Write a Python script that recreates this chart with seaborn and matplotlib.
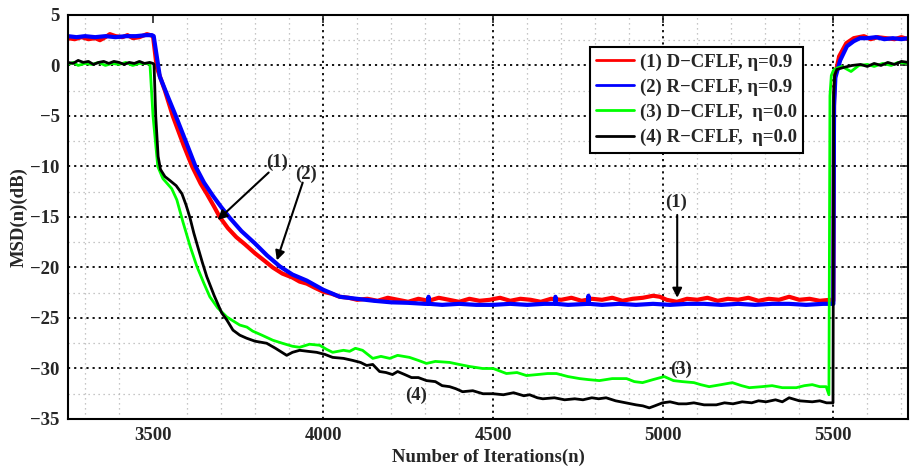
import numpy as np
import pandas as pd
import matplotlib
matplotlib.use("Agg")
import matplotlib.pyplot as plt
from matplotlib.ticker import MultipleLocator
import seaborn as sns

# ---------------- data ----------------
labels = ["(1) D\u2212CFLF, \u03b7=0.9", "(2) R\u2212CFLF, \u03b7=0.9",
          "(3) D\u2212CFLF,  \u03b7=0.0", "(4) R\u2212CFLF,  \u03b7=0.0"]
colors = ["#ff0000", "#0000ff", "#00ff00", "#000000"]

red_x = [3250, 3270, 3290, 3310, 3330, 3344, 3360, 3373, 3390, 3410, 3425, 3441, 3460, 3482, 3492, 3500,
         3511, 3535, 3558, 3590, 3615, 3640, 3658, 3680, 3696, 3720, 3745, 3770, 3800, 3830, 3852, 3880,
         3910, 3931, 3952, 3975, 4000, 4025, 4049, 4075, 4100, 4130, 4160, 4190, 4220, 4250, 4280, 4310,
         4340, 4370, 4400, 4430, 4460, 4490, 4520, 4550, 4580, 4610, 4640, 4670, 4700, 4730, 4760, 4790,
         4820, 4850, 4880, 4910, 4940, 4970, 4990, 5010, 5040, 5070, 5100, 5130, 5160, 5190, 5220, 5250,
         5280, 5310, 5340, 5370, 5400, 5430, 5460, 5490, 5500, 5502, 5505, 5517, 5538, 5560, 5575, 5590,
         5610, 5630, 5655, 5680, 5700, 5720]
red_y = [2.7, 2.6, 2.8, 2.6, 2.7, 2.5, 2.8, 3.1, 2.9, 2.8, 3.0, 2.7, 2.8, 3.1, 3.0, 2.9,
         -0.2, -2.5, -5.0, -7.9, -10.0, -11.7, -12.7, -14.0, -15.0, -16.1, -17.0, -17.7, -18.6, -19.4, -20.0, -20.6,
         -21.0, -21.4, -21.6, -22.0, -22.4, -22.6, -22.9, -23.0, -23.2, -23.1, -23.3, -23.0, -23.2, -23.4, -23.1, -23.3,
         -23.0, -23.2, -23.4, -23.1, -23.3, -23.2, -23.0, -23.3, -23.1, -23.2, -23.4, -23.1, -23.2, -23.0, -23.3, -23.1,
         -23.2, -23.0, -23.3, -23.1, -23.0, -22.8, -22.9, -23.2, -23.4, -23.1, -23.2, -23.0, -23.3, -23.1, -23.2, -23.0,
         -23.3, -23.1, -23.2, -22.9, -23.2, -23.1, -23.3, -23.2, -23.3, -3.5, -1.0, 0.9, 2.2, 2.7, 2.8, 2.9,
         2.6, 2.8, 2.7, 2.6, 2.8, 2.6]

blue_x = [3250, 3275, 3300, 3330, 3360, 3390, 3420, 3450, 3480, 3497, 3502, 3520, 3545, 3567, 3595, 3625,
          3650, 3676, 3700, 3726, 3760, 3799, 3835, 3873, 3910, 3952, 4000, 4049, 4099, 4150, 4200, 4250,
          4300, 4309, 4310, 4312, 4350, 4400, 4450, 4500, 4550, 4600, 4650, 4682, 4683, 4685, 4720, 4779,
          4780, 4782, 4820, 4870, 4920, 4970, 5020, 5070, 5120, 5170, 5220, 5270, 5320, 5370, 5420, 5470,
          5500, 5502, 5506, 5520, 5540, 5560, 5578, 5600, 5625, 5650, 5675, 5700, 5720]
blue_y = [2.9, 2.8, 2.9, 2.8, 2.9, 2.8, 2.9, 2.9, 3.0, 3.0, 2.9, -1.1, -3.2, -5.0, -7.4, -10.0,
          -11.6, -12.9, -14.0, -15.1, -16.4, -17.6, -18.8, -19.9, -20.7, -21.3, -22.2, -22.9, -23.1, -23.3, -23.45, -23.5,
          -23.6, -23.6, -22.9, -23.6, -23.7, -23.6, -23.7, -23.7, -23.6, -23.7, -23.6, -23.6, -22.9, -23.6, -23.7, -23.6,
          -22.8, -23.6, -23.7, -23.6, -23.7, -23.6, -23.7, -23.6, -23.6, -23.7, -23.6, -23.7, -23.6, -23.6, -23.7, -23.6,
          -23.6, -4.0, -1.2, 0.5, 1.9, 2.4, 2.7, 2.7, 2.8, 2.6, 2.7, 2.6, 2.7]

green_x = [3250, 3265, 3280, 3300, 3320, 3340, 3360, 3380, 3400, 3420, 3440, 3460, 3480, 3491, 3500, 3514,
           3529, 3555, 3570, 3588, 3610, 3629, 3650, 3667, 3690, 3717, 3755, 3776, 3793, 3820, 3852, 3880,
           3910, 3931, 3960, 3990, 4010, 4028, 4060, 4078, 4095, 4116, 4146, 4170, 4196, 4219, 4254, 4280,
           4304, 4330, 4372, 4400, 4430, 4469, 4500, 4539, 4570, 4598, 4630, 4660, 4686, 4720, 4754, 4780,
           4812, 4850, 4892, 4915, 4939, 4970, 5003, 5030, 5056, 5090, 5110, 5135, 5170, 5203, 5230, 5253,
           5290, 5320, 5350, 5391, 5415, 5438, 5460, 5479, 5487, 5490, 5494, 5500, 5508, 5525, 5552, 5575,
           5600, 5620, 5645, 5670, 5690, 5720]
green_y = [0.1, 0.3, 0.0, 0.2, 0.1, 0.3, 0.0, 0.2, 0.1, 0.3, 0.0, 0.2, 0.2, 0.1, -5.0, -10.0,
           -11.2, -12.2, -13.3, -15.5, -18.0, -19.9, -21.6, -22.9, -24.0, -24.9, -25.7, -25.9, -26.3, -26.7, -27.2, -27.5,
           -27.8, -27.9, -27.6, -27.7, -28.1, -28.4, -28.2, -28.3, -28.0, -28.2, -29.0, -28.8, -29.0, -28.7, -28.9, -29.2,
           -29.5, -29.3, -29.4, -29.6, -29.8, -30.0, -30.0, -30.5, -30.4, -30.7, -30.6, -30.5, -30.5, -30.8, -31.0, -31.1,
           -31.2, -31.0, -31.0, -31.3, -31.4, -31.1, -30.8, -31.2, -31.3, -31.4, -31.6, -31.8, -31.6, -31.4, -31.7, -31.9,
           -31.8, -31.7, -31.9, -31.9, -31.7, -31.6, -31.8, -31.8, -32.6, -3.0, -1.0, -0.5, -0.3, -0.1, -0.6, 0.0,
           0.1, -0.1, 0.2, 0.0, 0.3, 0.2]

black_x = [3250, 3265, 3280, 3295, 3310, 3325, 3340, 3355, 3370, 3385, 3400, 3415, 3430, 3445, 3460, 3475,
           3490, 3500, 3503, 3508, 3515, 3522, 3535, 3550, 3568, 3585, 3597, 3608, 3620, 3632, 3645, 3658,
           3680, 3702, 3717, 3735, 3755, 3775, 3800, 3834, 3860, 3893, 3910, 3931, 3955, 3981, 4005, 4028,
           4060, 4087, 4110, 4128, 4146, 4166, 4185, 4204, 4219, 4240, 4260, 4280, 4304, 4330, 4350, 4372,
           4390, 4410, 4440, 4470, 4500, 4530, 4560, 4590, 4607, 4630, 4646, 4680, 4710, 4740, 4764, 4790,
           4810, 4832, 4860, 4890, 4920, 4940, 4959, 4975, 4998, 5020, 5045, 5068, 5090, 5120, 5156, 5180,
           5205, 5232, 5260, 5280, 5302, 5330, 5350, 5370, 5400, 5438, 5460, 5480, 5499, 5501, 5504, 5510,
           5530, 5555, 5580, 5600, 5620, 5640, 5660, 5680, 5700, 5720]
black_y = [0.3, 0.2, 0.5, 0.3, 0.4, 0.1, 0.3, 0.4, 0.2, 0.4, 0.3, 0.1, 0.3, 0.2, 0.4, 0.2,
           0.3, 0.2, 0.1, -5.0, -9.0, -10.3, -11.0, -11.4, -11.9, -12.7, -13.8, -15.0, -16.6, -18.0, -19.5, -20.9,
           -22.8, -24.5, -25.2, -26.2, -26.7, -27.0, -27.3, -27.5, -28.0, -28.7, -28.4, -28.2, -28.3, -28.4, -28.6, -28.9,
           -29.0, -29.2, -29.4, -29.7, -29.6, -30.3, -30.4, -30.6, -30.3, -30.6, -30.9, -30.9, -31.2, -31.3, -31.7, -31.8,
           -32.0, -32.3, -32.2, -32.5, -32.5, -32.6, -32.4, -32.7, -32.6, -32.9, -33.0, -32.9, -33.1, -33.0, -33.1, -32.9,
           -33.0, -32.9, -33.2, -33.4, -33.6, -33.7, -33.9, -33.7, -33.4, -33.3, -33.5, -33.5, -33.4, -33.6, -33.6, -33.4,
           -33.5, -33.3, -33.4, -33.2, -33.3, -33.1, -33.3, -32.9, -33.2, -33.3, -33.2, -33.4, -33.4, -3.0, -1.0, -0.4,
           -0.2, 0.0, 0.1, -0.1, 0.2, 0.0, 0.3, 0.1, 0.4, 0.3]

xticks = [3500, 4000, 4500, 5000, 5500]
yticks = [-35, -30, -25, -20, -15, -10, -5, 0, 5]

# ---------------- figure ----------------
sns.set_style("white")
plt.rcParams['font.family'] = ['Liberation Serif', 'DejaVu Serif']
plt.rcParams['font.weight'] = 'bold'
plt.rcParams['axes.labelweight'] = 'bold'

fig = plt.figure(figsize=(9.10, 4.67), dpi=100)
ax = fig.add_axes([0.0747, 0.1028, 0.9233, 0.8652])

series = [(red_x, red_y), (blue_x, blue_y), (green_x, green_y), (black_x, black_y)]
widths = [3.0, 3.0, 2.0, 2.0]
for (xs, ys), lab, col, lw in zip(series, labels, colors, widths):
    df = pd.DataFrame({"n": xs, "msd": ys})
    sns.lineplot(data=df, x="n", y="msd", color=col, lw=lw, label=lab, ax=ax,
                 estimator=None, sort=False, legend=True)

ax.set_xlim(3250, 5720)
ax.set_ylim(-35, 5)
ax.set_xticks(xticks)
ax.set_yticks(yticks)
ax.xaxis.set_minor_locator(MultipleLocator(100))
ax.yaxis.set_minor_locator(MultipleLocator(2.5))
ax.tick_params(which='major', direction='in', length=6, width=1.2, top=True, right=True,
               labelsize=13.5, pad=6)
ax.tick_params(which='minor', length=0)
for lbl in ax.get_xticklabels() + ax.get_yticklabels():
    lbl.set_fontweight('bold')

# grids (MATLAB style)
ax.grid(which='minor', axis='both', linestyle=(0, (1, 3)), color='#b4b4b4', lw=0.9)
ax.grid(which='major', axis='y', linestyle=(0, (1.2, 2.2)), color='black', lw=1.3)
for xv in xticks[1:]:
    ax.axvline(xv, linestyle=(0, (1.2, 2.2)), color='black', lw=1.3, zorder=0.5)
ax.set_axisbelow(True)

for s in ax.spines.values():
    s.set_linewidth(1.5)
    s.set_color('black')

ax.set_xlabel("Number of Iterations(n)", fontsize=13.5, fontweight='bold', labelpad=3)
ax.set_ylabel("MSD(n)(dB)", fontsize=13.5, fontweight='bold', labelpad=2)

leg = ax.legend(loc='upper right', bbox_to_anchor=(0.875, 0.921), borderaxespad=0,
                fancybox=False, framealpha=1, edgecolor='black', handlelength=2.0,
                handletextpad=0.3, labelspacing=0.42, borderpad=0.35,
                prop={'family': 'Liberation Serif', 'weight': 'bold', 'size': 13.5})
leg.get_frame().set_linewidth(1.5)
for h in leg.get_lines():
    h.set_linewidth(2.0)

# annotations
akw = dict(arrowstyle='-|>', color='black', lw=1.5, mutation_scale=14, shrinkA=0, shrinkB=0)
tkw = dict(fontsize=13.5, fontweight='bold', ha='center', va='center')
ax.annotate("", xy=(3690, -15.3), xytext=(3840, -10.6), arrowprops=akw)
ax.text(3864, -9.6, "(1)", **tkw)
ax.annotate("", xy=(3864, -19.3), xytext=(3940, -11.6), arrowprops=akw)
ax.text(3949, -10.8, "(2)", **tkw)
ax.annotate("", xy=(5041, -23.0), xytext=(5041, -14.8), arrowprops=akw)
ax.text(5039, -13.6, "(1)", **tkw)
ax.text(5053, -30.05, "(3)", **tkw)
ax.text(4272, -32.7, "(4)", **tkw)

fig.savefig("out.png", dpi=100)
